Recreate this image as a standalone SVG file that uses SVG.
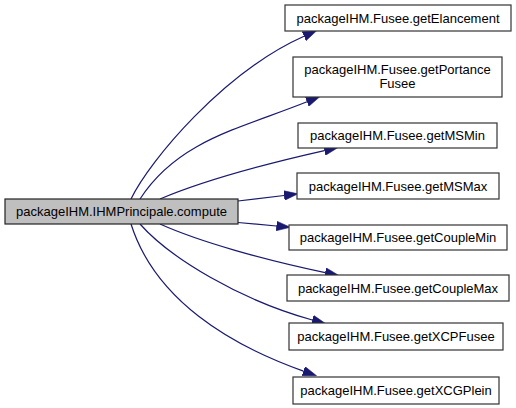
<svg xmlns="http://www.w3.org/2000/svg" width="516" height="408" viewBox="0 0 516 408">
<style>
.box{fill:#ffffff;stroke:#333333;stroke-width:1.2}
.main{fill:#bfbfbf;stroke:#222222;stroke-width:1.2}
text{font-family:"Liberation Sans",Arial,sans-serif;font-size:13px;fill:#000000;text-anchor:middle}
.edge{fill:none;stroke:#191970;stroke-width:1.2}
</style>
<defs>
<marker id="arr" markerUnits="userSpaceOnUse" markerWidth="14" markerHeight="10" refX="0" refY="4.5" orient="auto" viewBox="0 0 13 9">
<path d="M0,0 L13,4.5 L0,9 z" fill="#191970" stroke="#191970" stroke-width="0.5"/>
</marker>
</defs>
<rect width="516" height="408" fill="#ffffff"/>
<g id="connectors">
<path class="edge" marker-end="url(#arr)" d="M131,199 C150,160 224,72 304,36.3"/>
<path class="edge" marker-end="url(#arr)" d="M140,199 C178,140 242,128 307,101.8"/>
<path class="edge" marker-end="url(#arr)" d="M160,199 C200,182 265,164 324.4,150.6"/>
<path class="edge" marker-end="url(#arr)" d="M238,201 L284.1,195.5"/>
<path class="edge" marker-end="url(#arr)" d="M238,222.5 L276.4,226"/>
<path class="edge" marker-end="url(#arr)" d="M160,224 C200,242 265,260 325.2,272.6"/>
<path class="edge" marker-end="url(#arr)" d="M140,224 C170,258 240,300 312.3,320"/>
<path class="edge" marker-end="url(#arr)" d="M131,224 C155,300 230,345 303.4,371.1"/>
</g>
<g id="node-main">
<rect class="main" x="5" y="199" width="233" height="25"/>
<text x="121.5" y="216">packageIHM.IHMPrincipale.compute</text>
</g>
<g id="node-getElancement">
<rect class="box" x="285" y="5" width="226" height="26"/>
<text x="398" y="22.5">packageIHM.Fusee.getElancement</text>
</g>
<g id="node-getPortanceFusee">
<rect class="box" x="293" y="57" width="209" height="40"/>
<text x="397.5" y="74">packageIHM.Fusee.getPortance</text>
<text x="397.5" y="87.5">Fusee</text>
</g>
<g id="node-getMSMin">
<rect class="box" x="298" y="123" width="199" height="25"/>
<text x="397.5" y="140">packageIHM.Fusee.getMSMin</text>
</g>
<g id="node-getMSMax">
<rect class="box" x="297" y="173" width="202" height="26"/>
<text x="398" y="190.5">packageIHM.Fusee.getMSMax</text>
</g>
<g id="node-getCoupleMin">
<rect class="box" x="289" y="225" width="218" height="25"/>
<text x="398" y="241.5">packageIHM.Fusee.getCoupleMin</text>
</g>
<g id="node-getCoupleMax">
<rect class="box" x="287" y="275" width="222" height="26"/>
<text x="398" y="292.5">packageIHM.Fusee.getCoupleMax</text>
</g>
<g id="node-getXCPFusee">
<rect class="box" x="289" y="323" width="214" height="27"/>
<text x="396" y="341">packageIHM.Fusee.getXCPFusee</text>
</g>
<g id="node-getXCGPlein">
<rect class="box" x="293" y="377" width="206" height="27"/>
<text x="396" y="395">packageIHM.Fusee.getXCGPlein</text>
</g>
</svg>
